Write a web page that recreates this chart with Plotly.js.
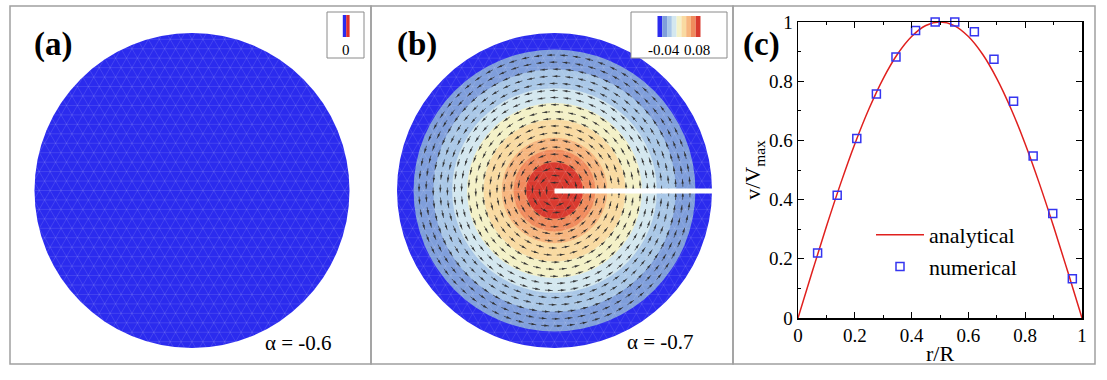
<!DOCTYPE html>
<html><head><meta charset="utf-8">
<script src="https://cdn.plot.ly/plotly-3.0.1.min.js"></script>
<style>html,body{margin:0;padding:0;background:#fff}</style>
</head><body><div id="chart" style="width:1107px;height:380px"></div>
<script>
// ---------------- data ----------------
const panelLabels = ['(a)', '(b)', '(c)'];
const alphaLabels = ['α = -0.6', 'α = -0.7'];
// panel (a): uniform field
const ringRadiiA = [1.0];
const ringColorsA = ['#2B2BEE'];
const legendColorsA = ['#2B2BEE', '#E0302E'];
const legendLabelsA = ['0'];
// panel (b): contour bands (outer radius of each band, fraction of R)
const ringRadiiB = [1.0, 0.895, 0.77, 0.65, 0.555, 0.45, 0.335, 0.26, 0.18];
const ringColorsB = ['#2B2BEE', '#7F9EDB', '#A9C7E7', '#D3E7EF', '#F4F1C7', '#F9DAA1', '#F7B67F', '#F08B5D', '#D93A2F'];
const legendLabelsB = ['-0.04', '0.08'];
// panel (c): velocity profile
const rAnalytical = [0, 0.05, 0.1, 0.15, 0.2, 0.25, 0.3, 0.35, 0.4, 0.45, 0.5, 0.55, 0.6, 0.65, 0.7, 0.75, 0.8, 0.85, 0.9, 0.95, 1.0];
const vAnalytical = [0, 0.156, 0.309, 0.454, 0.588, 0.707, 0.809, 0.891, 0.951, 0.988, 1.0, 0.988, 0.951, 0.891, 0.809, 0.707, 0.588, 0.454, 0.309, 0.156, 0];
const rNumerical = [0.069, 0.138, 0.207, 0.276, 0.345, 0.414, 0.483, 0.552, 0.621, 0.690, 0.759, 0.828, 0.897, 0.966];
const vNumerical = [0.220, 0.415, 0.606, 0.757, 0.882, 0.971, 1.0, 1.0, 0.967, 0.874, 0.732, 0.547, 0.353, 0.133];
const xTickVals = [0, 0.2, 0.4, 0.6, 0.8, 1];
const xTickText = ['0', '0.2', '0.4', '0.6', '0.8', '1'];
const yTickVals = [0, 0.2, 0.4, 0.6, 0.8, 1];
const yTickText = ['0', '0.2', '0.4', '0.6', '0.8', '1'];
const minorTickVals = [0.1, 0.3, 0.5, 0.7, 0.9];

// ---------------- geometry helpers ----------------
const W = 1107, H = 380;
const px = v => v / W, py = v => 1 - v / H;
const SERIF = 'Liberation Serif';
const PAD = 1.02;
function discDomain(cx, cy, R) {
  const h = R * PAD;
  return {x: [px(cx - h), px(cx + h)], y: [py(cy + h), py(cy - h)]};
}
const domA = discDomain(192, 190.5, 157.5);
const domB = discDomain(554.5, 190.5, 157.5);

// faint triangular mesh clipped to the unit disc
function meshLines(h) {
  const xs = [], ys = [];
  [0, 60, 120].forEach(deg => {
    const a = deg * Math.PI / 180;
    const tx = Math.cos(a), ty = Math.sin(a), nx = -ty, ny = tx;
    for (let k = -Math.floor(1 / h); k <= Math.floor(1 / h); k++) {
      const d = k * h;
      if (Math.abs(d) >= 0.999) continue;
      const c = Math.sqrt(1 - d * d) * 0.997;
      xs.push(d * nx - c * tx, d * nx + c * tx, null);
      ys.push(d * ny - c * ty, d * ny + c * ty, null);
    }
  });
  return {x: xs, y: ys};
}

// tangential (counter-clockwise) velocity arrows on concentric rings, staggered
function arrowField(r0, r1, dr, arc, L) {
  const sx = [], sy = [], hx = [], hy = [], ha = [];
  let j = 0;
  for (let r = r0; r <= r1 + 1e-9; r += dr, j++) {
    const n = Math.max(3, Math.round(2 * Math.PI * r / arc));
    const ph = j * 2.39996;
    for (let i = 0; i < n; i++) {
      const th = ph + 2 * Math.PI * i / n;
      const cx = r * Math.cos(th), cy = r * Math.sin(th);
      const tx = -Math.sin(th), ty = Math.cos(th);
      sx.push(cx - tx * L / 2, cx + tx * L / 2, null);
      sy.push(cy - ty * L / 2, cy + ty * L / 2, null);
      hx.push(cx + tx * L * 0.38);
      hy.push(cy + ty * L * 0.38);
      ha.push(-th * 180 / Math.PI);
    }
  }
  return {sx, sy, hx, hy, ha};
}

const mesh = meshLines(0.06);
const arrows = arrowField(0.05, 0.885, 0.045, 0.082, 0.05);

const traces = [
  {x: mesh.x, y: mesh.y, xaxis: 'x', yaxis: 'y', mode: 'lines', hoverinfo: 'skip', showlegend: false,
   line: {color: 'rgba(255,255,255,0.2)', width: 0.6}},
  {x: mesh.x, y: mesh.y, xaxis: 'x2', yaxis: 'y2', mode: 'lines', hoverinfo: 'skip', showlegend: false,
   line: {color: 'rgba(255,255,255,0.18)', width: 0.6}},
  {x: arrows.sx, y: arrows.sy, xaxis: 'x2', yaxis: 'y2', mode: 'lines', hoverinfo: 'skip', showlegend: false,
   line: {color: 'rgba(45,45,45,0.85)', width: 0.8}},
  {x: arrows.hx, y: arrows.hy, xaxis: 'x2', yaxis: 'y2', mode: 'markers', hoverinfo: 'skip', showlegend: false,
   marker: {symbol: 'arrow', size: 4, angle: arrows.ha, color: 'rgba(45,45,45,0.9)', line: {width: 0}}},
  {x: rAnalytical, y: vAnalytical, xaxis: 'x3', yaxis: 'y3', mode: 'lines', name: 'analytical',
   line: {color: '#E0201E', width: 1.5, shape: 'spline', smoothing: 1}, cliponaxis: false},
  {x: rNumerical, y: vNumerical, xaxis: 'x3', yaxis: 'y3', mode: 'markers', name: 'numerical', cliponaxis: false,
   marker: {symbol: 'square-open', size: 8, color: '#3535F0', line: {width: 1.5, color: '#3535F0'}}}
];

// ---------------- shapes ----------------
const shapes = [];
[[10, 371], [371, 733], [733, 1095]].forEach(([a, b]) => {
  shapes.push({type: 'rect', xref: 'paper', yref: 'paper', x0: px(a), x1: px(b), y0: py(364), y1: py(6),
    line: {color: '#A0A0A0', width: 1.5}, fillcolor: 'rgba(0,0,0,0)', layer: 'below'});
});
ringRadiiA.forEach((r, i) => shapes.push({type: 'circle', xref: 'x', yref: 'y', x0: -r, x1: r, y0: -r, y1: r,
  fillcolor: ringColorsA[i], line: {width: 0}, layer: 'below'}));
ringRadiiB.forEach((r, i) => shapes.push({type: 'circle', xref: 'x2', yref: 'y2', x0: -r, x1: r, y0: -r, y1: r,
  fillcolor: ringColorsB[i], line: {width: 0}, layer: 'below'}));
shapes.push({type: 'line', xref: 'x2', yref: 'y2', x0: 0, x1: 1.0, y0: -0.003, y1: -0.003,
  line: {color: '#FFFFFF', width: 5}, layer: 'above'});
function colourLegend(bx0, bx1, sx0, sx1, sy0, sy1, cols) {
  shapes.push({type: 'rect', xref: 'paper', yref: 'paper', x0: px(bx0), x1: px(bx1), y0: py(58), y1: py(12),
    line: {color: '#8A8A8A', width: 1}, fillcolor: '#FFFFFF'});
  const w = (sx1 - sx0) / cols.length;
  cols.forEach((c, i) => shapes.push({type: 'rect', xref: 'paper', yref: 'paper',
    x0: px(sx0 + i * w), x1: px(sx0 + (i + 1) * w), y0: py(sy1), y1: py(sy0),
    line: {width: 0}, fillcolor: c}));
}
colourLegend(327, 364, 342.8, 349.6, 15, 37, legendColorsA);
colourLegend(631, 727, 657.5, 700.5, 16, 37, ringColorsB);

// ---------------- annotations ----------------
const ann = [];
function txt(t, x, y, size, bold) {
  ann.push({text: bold ? '<b>' + t + '</b>' : t, xref: 'paper', yref: 'paper', x: px(x), y: py(y),
    xanchor: 'center', yanchor: 'middle', showarrow: false, font: {family: SERIF, size: size, color: '#000'}});
}
txt(panelLabels[0], 53, 44, 33, true);
txt(panelLabels[1], 417, 44, 33, true);
txt(panelLabels[2], 761, 44, 33, true);
txt(alphaLabels[0], 298.5, 343, 21, false);
txt(alphaLabels[1], 660, 342, 21, false);
txt(legendLabelsA[0], 346, 50, 15, false);
txt(legendLabelsB[0], 664, 50, 15, false);
txt(legendLabelsB[1], 697, 50, 15, false);

const hiddenAxis = d => ({domain: d, range: [-PAD, PAD], visible: false, fixedrange: true, showgrid: false, zeroline: false});

const layout = {
  width: W, height: H, margin: {l: 0, r: 0, t: 0, b: 0},
  paper_bgcolor: '#FFFFFF', plot_bgcolor: 'rgba(0,0,0,0)',
  xaxis: Object.assign(hiddenAxis(domA.x), {anchor: 'y'}),
  yaxis: Object.assign(hiddenAxis(domA.y), {anchor: 'x'}),
  xaxis2: Object.assign(hiddenAxis(domB.x), {anchor: 'y2'}),
  yaxis2: Object.assign(hiddenAxis(domB.y), {anchor: 'x2'}),
  xaxis3: {domain: [px(798), px(1082)], anchor: 'y3', range: [0, 1], fixedrange: true,
    showgrid: false, zeroline: false, showline: true, linecolor: '#000', linewidth: 1.5, mirror: 'ticks',
    ticks: 'inside', ticklen: 6, tickwidth: 1, tickcolor: '#000',
    tickmode: 'array', tickvals: xTickVals, ticktext: xTickText,
    tickfont: {family: SERIF, size: 19, color: '#000'},
    minor: {tickmode: 'array', tickvals: minorTickVals, ticks: 'inside', ticklen: 3, tickcolor: '#000', showgrid: false},
    title: {text: 'r/R', font: {family: SERIF, size: 22, color: '#000'}, standoff: 0}},
  yaxis3: {domain: [py(318), py(22)], anchor: 'x3', range: [0, 1], fixedrange: true,
    showgrid: false, zeroline: false, showline: true, linecolor: '#000', linewidth: 1.5, mirror: 'ticks',
    ticks: 'inside', ticklen: 6, tickwidth: 1, tickcolor: '#000',
    tickmode: 'array', tickvals: yTickVals, ticktext: yTickText,
    tickfont: {family: SERIF, size: 19, color: '#000'},
    minor: {tickmode: 'array', tickvals: minorTickVals, ticks: 'inside', ticklen: 3, tickcolor: '#000', showgrid: false},
    title: {text: 'v/V<sub>max</sub>', font: {family: SERIF, size: 22, color: '#000'}, standoff: 2}},
  showlegend: true,
  legend: {x: px(871), y: py(214), xanchor: 'left', yanchor: 'top', bgcolor: 'rgba(0,0,0,0)', borderwidth: 0,
    font: {family: SERIF, size: 22, color: '#000'}, itemwidth: 48, tracegroupgap: 0},
  shapes: shapes, annotations: ann
};

Plotly.newPlot('chart', traces, layout, {staticPlot: true, displayModeBar: false});
</script></body></html>
